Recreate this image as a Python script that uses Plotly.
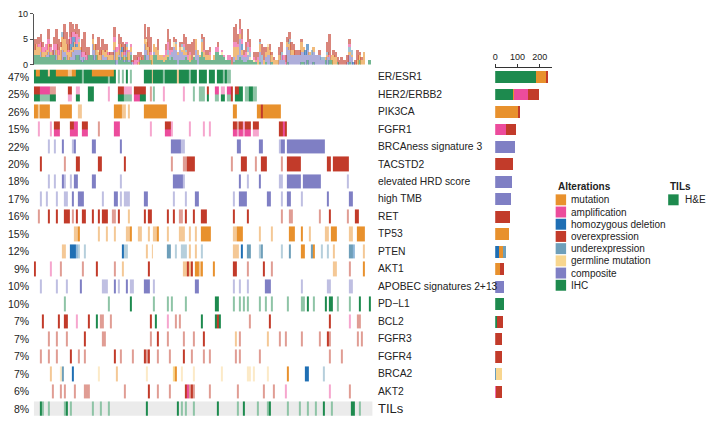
import plotly.graph_objects as go

# ---------------- data ----------------
genes = ["ER/ESR1", "HER2/ERBB2", "PIK3CA", "FGFR1", "BRCAness signature 3", "TACSTD2",
         "elevated HRD score", "high TMB", "RET", "TP53", "PTEN", "AKT1",
         "APOBEC signatures 2+13", "PD\u2212L1", "BCL2", "FGFR3", "FGFR4", "BRCA2", "AKT2", "TILs"]
percent_labels = ["47%", "25%", "26%", "15%", "22%", "20%", "18%", "17%", "16%", "15%",
                  "12%", "9%", "10%", "10%", "7%", "7%", "7%", "7%", "6%", "8%"]
N_SAMPLES = 170  # sample columns (binned)

alteration_types = ["mutation", "amplification", "homozygous deletion", "overexpression",
                    "underexpression", "germline mutation", "composite", "IHC"]
type_codes = ["M", "A", "D", "O", "U", "Y", "C", "G"]
type_colors = ["#E8912D", "#EC4C9C", "#1F6FB4", "#C23B2A", "#6E9FBA", "#F8D68F", "#7F7FC4", "#1D8A4E"]
til_types = ["H&E"]
til_colors = ["#1D8A4E"]

# per-row events: code + sample index (or range); lowercase = sparse/light
row_events = [
    "G0-23 g24 G25-36 g37 G38-40 g42 g44 G46 g48 G55-58 m59 G60-64 g65 G66-71 m72 G73-77 g78 G79-81 G83-86 G88-90 G92-94 g95 G96 g97-98",
    "G0-2 g3-7 G8-10 a17-18 G21-22 G27-29 a37 G42-44 g45-48 A50-52 G53-55 o58 g60 a65 a75 g80 g83-85 G87 g91-92 G94-95 g97-98 O99 G101-104 g106-107 G108-109 g110-111",
    "M0-1 m2 M3-7 M13-18 m22-23 M40-43 m44-45 m47 M55-66 M100-101 M112-113 O114 M115-123",
    "a2 a8 A10-12 A18-21 A24-26 o32 A40-42 a58 A66-68 a69 a78 a85 a88 A100-101 a102 A103-104 a105 A106-108 a110-112 O123-124 A125 O126",
    "c7 c10 C14 c19 C20 C29-30 C43 C69-73 c74-75 C102-103 C113-114 c123 C124-125 C127-145",
    "O3 o15 O21-22 O32-33 O45 o69 o75-76 O77-80 o99 O104-106 o111 O114-116 o124 O127-133 O147-148 O150-157",
    "c7 c10 C14 c15 c18 C20-21 C29-30 c43 C70-74 c75 C103 c107 C113 c123-124 C127-133 C135-143 c157",
    "c3 c6 c11 c15-16 C19 C22-24 c34 C40-41 c43 c45-47 C55-56 c70 c76 C81-82 c100 C103 C104-106 C117-118 c124 C127-128 c134 C147 C158-159",
    "o2 O7 O11 O15-17 o19 O21 O24-25 O29 O32 O34-36 o39-40 O42 m47 O55 O57-58 O67 O70 o73-74 O76 O80 O84-86 O100 O107 o124 o128-129 o143 O148 o157 O161-162",
    "m20-21 M22 m32 m36 m40 m46-47 M48 m52-53 m57 m60-61 M62 m67 m73-75 m78 m81 M84-88 m100-101 M102-104 m113 m119 M128-130 M134 m138 m146-147 M149-151 m158-159 M162-165",
    "m14-15 D18-20 d21 u22 u25 D44 u45-46 m56 m59 U67-68 u71 u74-76 m78 m81 u84 m100-102 D104 U107-108 u113 U114 u124 U128 M134-135 U139 M140 u144 u147 m150 U158-159 d160 m165",
    "O0 a8 o13 o24 O31 o40 m44 O57 m75-76 O77 m78 O79 M81-82 m83 M84 M90 O100-101 o107 O115 o119 m150 m151 o158 M165",
    "c3 c11 c16 C23 c34-36 C40 c42 C46 c48-49 C55-57 c60 C81-82 c100 c103 c107 C116-118 c134 c147 c148 c158-159",
    "g15 g37 G48 g60 g67 g69 g76 G91-92 g100 g103 g105 g107 g113 g116 g119 g127 g134 g135 G137 g140 G146 G148-149 g152 g158 G163 G168",
    "O4 O12 O15-16 a21 O27 G31 o33-34 o38 O58 G61 a67 o71 o73 G84 G91 O92 G93 o108 O118 O148 a158 o162-163",
    "o7 o11 o16 O25 o34-35 o58 O62 o67 o75 o80 O85 m101 o103 m117 o123 o126 o134 o143 O147 o148 o162 o164",
    "o3 o7 o11 O18 o22 o25 O40 o43 o49 O55 o56 O57 o62 o68 O75 o79 o85 o88 o101 o103 o113 o148 o154",
    "m8 y13 U14 D19 y32 m41 y56 Y70 M71 y74 y80 y94 y107-108 y110 y117 M127 D136-137 u145",
    "o9 o13 o15 o20 o25-27 o45 O57 o62 o68 O76 A77 o78 O79 o80 o88 o102 o115 o120 a126 a148 o158",
    "G3 g4 g7 g15 G16 g18 g29 g33 g37 G56 G72 g74 g76 g80 G92 g102 G105 g112 g117 G118 g127 g133 g137 g141 G145 g149 G159-160 g163",
]
# upper-half events (second alteration drawn on top half of a cell)
er_top_events = "M1-2 m7 M11-13 M14-16 m17-18 M19-20 M29-39"
her2_top_events = "O0-2 A3-7 o8-10 O17-18 a21-22 O42-44 a45-48 O50-55 O87 A91-92 a94-95 A97-98 O101-102"
fgfr1_top_events = "O10-12 O18-19 O24-26 O66-68 O100-101 o102 O103-104 O106-108 O110-112"

# right-hand bar totals per gene (rows ER..AKT2)
cnt_mutation = [46, 3, 105, 0, 0, 0, 0, 0, 0, 62, 18, 21, 0, 0, 0, 0, 0, 0, 0]
cnt_amplification = [0, 61, 0, 51, 0, 0, 0, 0, 0, 0, 0, 0, 0, 0, 0, 0, 0, 0, 4]
cnt_homdel = [0, 0, 0, 0, 0, 0, 0, 0, 0, 0, 18, 0, 0, 0, 0, 0, 0, 3, 0]
cnt_overexpression = [7, 52, 3, 45, 0, 82, 0, 0, 68, 0, 0, 21, 0, 0, 27, 33, 30, 0, 26]
cnt_underexpression = [0, 0, 0, 0, 0, 0, 0, 0, 0, 0, 13, 0, 0, 0, 0, 0, 0, 1, 0]
cnt_germline = [0, 0, 0, 0, 0, 0, 0, 0, 0, 0, 0, 0, 0, 0, 0, 0, 0, 26, 0]
cnt_composite = [0, 0, 0, 0, 89, 0, 75, 72, 0, 0, 0, 0, 40, 0, 0, 0, 0, 0, 0]
cnt_ihc = [184, 82, 0, 0, 0, 0, 0, 0, 0, 0, 0, 0, 0, 40, 7, 0, 0, 0, 0]

# ---------------- helpers ----------------
W, H = 709, 426
FONT = "Liberation Sans, Arial, Helvetica, sans-serif"
TXT = "#222222"


def px(x):
    return x / W


def py(y):
    return 1 - y / H


def parse(spec):
    row = [None] * N_SAMPLES
    for tok in spec.split():
        code, rng = tok[0], tok[1:]
        if "-" in rng:
            a, b = map(int, rng.split("-"))
        else:
            a = b = int(rng)
        for k in range(a, b + 1):
            if 0 <= k < N_SAMPLES:
                row[k] = code
    return row


def lighten(hexc, f=0.5):
    r, g, b = int(hexc[1:3], 16), int(hexc[3:5], 16), int(hexc[5:7], 16)
    r, g, b = [int(round(c + (255 - c) * f)) for c in (r, g, b)]
    return "#%02x%02x%02x" % (r, g, b)


palette = []
for c in type_colors:
    palette += [c, lighten(c, 0.5)]
GRAY_IDX = len(palette)
palette.append("#EBEBEB")
K = len(palette)


def code_index(code):
    if code is None:
        return None
    t = type_codes.index(code.upper())
    return 2 * t + (0 if code.isupper() else 1)


rows = [parse(s) for s in row_events]
tops = {0: parse(er_top_events), 1: parse(her2_top_events), 3: parse(fgfr1_top_events)}
n_genes = len(genes)
til_row = n_genes - 1

# heatmap matrix: each gene -> top half, bottom half, gap
HALF = 0.41
z, y_edges = [], []
for i in range(n_genes):
    bottom = rows[i]
    top = tops.get(i, bottom)
    top_z, bot_z = [], []
    for k in range(N_SAMPLES):
        tb = code_index(top[k]) if top[k] is not None else code_index(bottom[k])
        bb = code_index(bottom[k])
        if i == til_row:
            tb = GRAY_IDX if tb is None else tb
            bb = GRAY_IDX if bb is None else bb
        top_z.append(tb)
        bot_z.append(bb)
    z.append(top_z)
    z.append(bot_z)
    y_edges += [i - HALF, i]
    if i < n_genes - 1:
        z.append([None] * N_SAMPLES)
        y_edges.append(i + HALF)
y_edges.append(n_genes - 1 + HALF)

colorscale = []
for j, c in enumerate(palette):
    colorscale.append([j / K, c])
    colorscale.append([(j + 1) / K, c])

x_edges = [k - 0.5 for k in range(N_SAMPLES + 1)]

fig = go.Figure()
fig.add_trace(go.Heatmap(z=z, x=x_edges, y=y_edges, colorscale=colorscale,
                         zmin=-0.5, zmax=K - 0.5, showscale=False, hoverinfo="skip",
                         xaxis="x", yaxis="y"))

# ---------------- top stacked bars (alterations per sample) ----------------
stack_order = ["G", "C", "M", "Y", "D", "U", "A", "O"]
counts = {c: [0.0] * N_SAMPLES for c in stack_order}
for i in range(n_genes - 1):
    for k in range(N_SAMPLES):
        seen = set()
        for src in (rows[i], tops.get(i)):
            if src is None or src[k] is None:
                continue
            code = src[k]
            if code.upper() in seen:
                continue
            seen.add(code.upper())
            counts[code.upper()][k] += 1.0 if code.isupper() else 0.5
for c in stack_order:
    t = type_codes.index(c)
    fig.add_trace(go.Bar(x=list(range(N_SAMPLES)), y=counts[c], marker_color=type_colors[t],
                         marker_line_width=0, opacity=0.62, xaxis="x2", yaxis="y2",
                         showlegend=False, hoverinfo="skip"))

# ---------------- right stacked bars (totals per gene) ----------------
right_series = [("G", cnt_ihc), ("D", cnt_homdel), ("M", cnt_mutation), ("A", cnt_amplification),
                ("O", cnt_overexpression), ("U", cnt_underexpression), ("Y", cnt_germline),
                ("C", cnt_composite)]
gene_idx = list(range(n_genes - 1))
for c, vals in right_series:
    t = type_codes.index(c)
    fig.add_trace(go.Bar(y=gene_idx, x=vals, orientation="h", width=0.68,
                         marker_color=type_colors[t], marker_line_width=0,
                         xaxis="x3", yaxis="y", showlegend=False, hoverinfo="skip"))

# ---------------- annotations ----------------
ann = []
for i, (g, p) in enumerate(zip(genes, percent_labels)):
    ann.append(dict(x=px(28.5), y=i, xref="paper", yref="y", text=p, showarrow=False,
                    xanchor="right", yanchor="middle", font=dict(size=10.5, color=TXT)))
    ann.append(dict(x=px(374.5), y=i, xref="paper", yref="y", text=g, showarrow=False,
                    xanchor="left", yanchor="middle",
                    font=dict(size=13 if i == til_row else 10.3, color=TXT)))

shapes = []
LEG_X, LEG_Y0, LEG_DY = 555, 199.5, 12.5
ann.append(dict(x=px(LEG_X), y=py(186), xref="paper", yref="paper", text="<b>Alterations</b>",
                showarrow=False, xanchor="left", yanchor="middle", font=dict(size=10, color=TXT)))
for k, (name, col) in enumerate(zip(alteration_types, type_colors)):
    yc = LEG_Y0 + k * LEG_DY
    shapes.append(dict(type="rect", xref="paper", yref="paper", x0=px(LEG_X), x1=px(LEG_X + 10.5),
                       y0=py(yc + 5.6), y1=py(yc - 5.6), fillcolor=col, line_width=0))
    ann.append(dict(x=px(LEG_X + 13.5), y=py(yc), xref="paper", yref="paper", text=name,
                    showarrow=False, xanchor="left", yanchor="middle", font=dict(size=10, color=TXT)))
TIL_X = 668
ann.append(dict(x=px(TIL_X), y=py(186), xref="paper", yref="paper", text="<b>TILs</b>",
                showarrow=False, xanchor="left", yanchor="middle", font=dict(size=10, color=TXT)))
for k, (name, col) in enumerate(zip(til_types, til_colors)):
    yc = LEG_Y0 + k * LEG_DY
    shapes.append(dict(type="rect", xref="paper", yref="paper", x0=px(TIL_X), x1=px(TIL_X + 10.5),
                       y0=py(yc + 5.6), y1=py(yc - 5.6), fillcolor=col, line_width=0))
    ann.append(dict(x=px(TIL_X + 14.5), y=py(yc), xref="paper", yref="paper", text=name,
                    showarrow=False, xanchor="left", yanchor="middle", font=dict(size=10, color=TXT)))

hm_dom = [px(31), px(371)]
fig.update_layout(
    width=W, height=H, margin=dict(l=0, r=0, t=0, b=0),
    paper_bgcolor="white", plot_bgcolor="white",
    font=dict(family=FONT, color=TXT), showlegend=False,
    barmode="stack", bargap=0,
    xaxis=dict(domain=hm_dom, range=[-0.5, N_SAMPLES - 0.5], visible=False, fixedrange=True),
    yaxis=dict(domain=[py(420.66), py(66.14)], range=[n_genes - 1 + 0.4, -0.4], visible=False),
    xaxis2=dict(domain=hm_dom, range=[-0.5, N_SAMPLES - 0.5], visible=False, anchor="y2"),
    yaxis2=dict(domain=[py(61), py(9)], range=[0, 10], anchor="x2", tickvals=[0, 5, 10],
                ticks="outside", ticklen=3, tickcolor="#555", showline=True, linecolor="#555",
                linewidth=1, showgrid=False, zeroline=False, tickfont=dict(size=9, color=TXT)),
    xaxis3=dict(domain=[px(494.3), px(551.3)], range=[0, 254.5], side="top", anchor="free",
                position=py(63), tickvals=[0, 100, 200], ticks="outside", ticklen=3,
                tickcolor="#333", showline=True, linecolor="#333", linewidth=1, showgrid=False,
                zeroline=False, tickfont=dict(size=9, color=TXT)),
    annotations=ann, shapes=shapes,
)

fig.write_html("out.html")
